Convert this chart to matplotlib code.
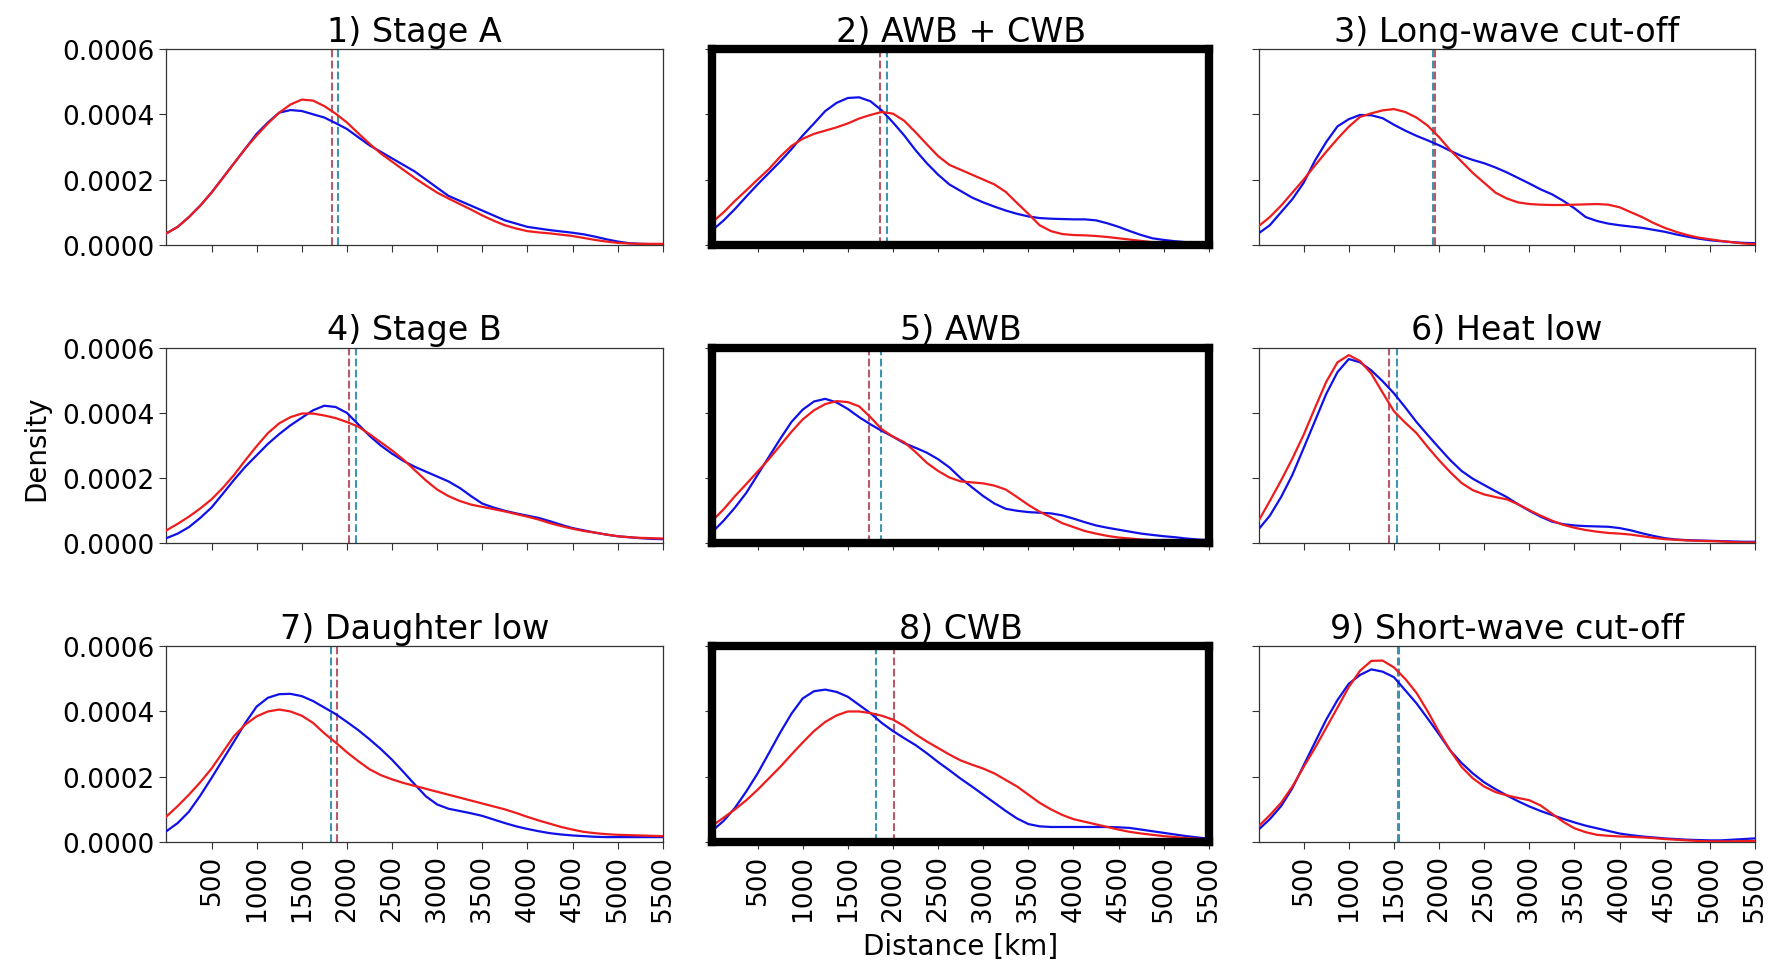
import numpy as np
import matplotlib
matplotlib.use("Agg")
import matplotlib.pyplot as plt
from matplotlib.ticker import FormatStrFormatter

# Distance grid (km) at which the density curves are tabulated
distance_km = list(range(0, 5501, 125))

panel_titles = ["1) Stage A", "2) AWB + CWB", "3) Long-wave cut-off",
                "4) Stage B", "5) AWB", "6) Heat low",
                "7) Daughter low", "8) CWB", "9) Short-wave cut-off"]

# Density values in units of 1e-4 per km
blue_1 = [0.35, 0.55, 0.85, 1.2, 1.6, 2.05, 2.5, 2.95, 3.4, 3.75, 4.05, 4.13, 4.1, 4.0, 3.9, 3.73,
          3.55, 3.3, 3.05, 2.85, 2.65, 2.45, 2.25, 2.0, 1.75, 1.5, 1.35, 1.2, 1.05, 0.9, 0.75,
          0.65, 0.55, 0.5, 0.45, 0.41, 0.37, 0.32, 0.25, 0.17, 0.1, 0.05, 0.03, 0.02, 0.02]
red_1 = [0.35, 0.55, 0.85, 1.2, 1.6, 2.05, 2.5, 2.95, 3.35, 3.72, 4.05, 4.3, 4.45, 4.42, 4.25, 4.02,
         3.75, 3.42, 3.1, 2.8, 2.55, 2.3, 2.05, 1.82, 1.6, 1.42, 1.25, 1.08, 0.9, 0.74, 0.6,
         0.5, 0.42, 0.38, 0.35, 0.31, 0.27, 0.21, 0.15, 0.1, 0.06, 0.04, 0.03, 0.03, 0.03]

blue_2 = [0.45, 0.75, 1.1, 1.48, 1.85, 2.2, 2.55, 2.93, 3.35, 3.72, 4.1, 4.35, 4.5, 4.52, 4.4, 4.12,
          3.75, 3.35, 2.9, 2.5, 2.15, 1.85, 1.65, 1.45, 1.3, 1.17, 1.05, 0.95, 0.87, 0.82, 0.8,
          0.79, 0.78, 0.78, 0.75, 0.66, 0.55, 0.42, 0.3, 0.2, 0.15, 0.11, 0.08, 0.06, 0.05]
red_2 = [0.7, 1.0, 1.35, 1.67, 2.0, 2.32, 2.7, 3.03, 3.25, 3.4, 3.5, 3.6, 3.72, 3.87, 3.98, 4.07,
         4.02, 3.8, 3.45, 3.08, 2.72, 2.45, 2.3, 2.15, 2.0, 1.85, 1.62, 1.28, 0.95, 0.6, 0.42,
         0.33, 0.3, 0.29, 0.27, 0.24, 0.2, 0.16, 0.12, 0.08, 0.06, 0.04, 0.03, 0.02, 0.02]

blue_3 = [0.35, 0.6, 1.0, 1.4, 1.9, 2.58, 3.15, 3.63, 3.85, 3.98, 3.97, 3.88, 3.68, 3.5, 3.34, 3.2,
          3.05, 2.88, 2.72, 2.6, 2.5, 2.37, 2.22, 2.05, 1.88, 1.7, 1.55, 1.35, 1.12, 0.85, 0.73,
          0.65, 0.6, 0.56, 0.52, 0.46, 0.4, 0.32, 0.25, 0.19, 0.14, 0.11, 0.08, 0.06, 0.05]
red_3 = [0.57, 0.85, 1.2, 1.6, 2.0, 2.43, 2.85, 3.25, 3.62, 3.92, 4.03, 4.12, 4.16, 4.07, 3.9, 3.65,
         3.3, 2.9, 2.55, 2.2, 1.9, 1.6, 1.42, 1.3, 1.25, 1.23, 1.22, 1.22, 1.23, 1.24, 1.25,
         1.23, 1.15, 1.0, 0.85, 0.67, 0.52, 0.4, 0.3, 0.22, 0.17, 0.12, 0.08, 0.04, 0.02]

blue_4 = [0.16, 0.3, 0.5, 0.78, 1.1, 1.52, 1.95, 2.35, 2.7, 3.05, 3.35, 3.62, 3.85, 4.08, 4.22, 4.18,
          4.0, 3.65, 3.3, 3.0, 2.75, 2.53, 2.35, 2.2, 2.05, 1.9, 1.7, 1.45, 1.22, 1.1, 1.0,
          0.92, 0.85, 0.78, 0.68, 0.57, 0.47, 0.4, 0.33, 0.27, 0.22, 0.19, 0.16, 0.14, 0.13]
red_4 = [0.4, 0.6, 0.82, 1.07, 1.35, 1.7, 2.1, 2.55, 2.98, 3.38, 3.68, 3.87, 3.98, 3.98, 3.92, 3.84,
         3.72, 3.58, 3.35, 3.1, 2.85, 2.57, 2.25, 1.93, 1.65, 1.45, 1.3, 1.19, 1.12, 1.05, 0.98,
         0.9, 0.82, 0.73, 0.62, 0.53, 0.45, 0.38, 0.33, 0.27, 0.22, 0.19, 0.17, 0.16, 0.15]

blue_5 = [0.35, 0.7, 1.1, 1.55, 2.1, 2.65, 3.2, 3.72, 4.1, 4.35, 4.43, 4.32, 4.12, 3.87, 3.65, 3.45,
          3.27, 3.07, 2.93, 2.78, 2.58, 2.33, 2.0, 1.72, 1.45, 1.22, 1.06, 1.0, 0.96, 0.94, 0.92,
          0.86, 0.76, 0.65, 0.55, 0.48, 0.42, 0.36, 0.3, 0.26, 0.22, 0.19, 0.15, 0.12, 0.1]
red_5 = [0.7, 1.05, 1.45, 1.82, 2.2, 2.58, 3.0, 3.42, 3.8, 4.08, 4.27, 4.36, 4.33, 4.2, 3.87, 3.5,
         3.27, 3.1, 2.8, 2.47, 2.22, 2.02, 1.9, 1.87, 1.84, 1.77, 1.65, 1.42, 1.18, 0.97, 0.8,
         0.62, 0.5, 0.38, 0.3, 0.23, 0.18, 0.15, 0.12, 0.1, 0.08, 0.07, 0.06, 0.05, 0.05]

blue_6 = [0.43, 0.85, 1.42, 2.1, 2.92, 3.75, 4.58, 5.25, 5.65, 5.55, 5.3, 4.97, 4.6, 4.17, 3.72, 3.32,
          2.93, 2.55, 2.22, 1.98, 1.79, 1.6, 1.42, 1.2, 1.0, 0.82, 0.67, 0.59, 0.55, 0.53, 0.52,
          0.51, 0.47, 0.4, 0.31, 0.23, 0.16, 0.12, 0.1, 0.09, 0.08, 0.07, 0.06, 0.05, 0.05]
red_6 = [0.69, 1.3, 1.93, 2.6, 3.33, 4.15, 4.95, 5.55, 5.77, 5.59, 5.2, 4.62, 4.05, 3.7, 3.38, 2.95,
         2.55, 2.18, 1.85, 1.63, 1.5, 1.42, 1.35, 1.2, 1.02, 0.85, 0.7, 0.57, 0.48, 0.41, 0.36,
         0.32, 0.3, 0.27, 0.22, 0.17, 0.13, 0.11, 0.09, 0.08, 0.07, 0.06, 0.04, 0.03, 0.03]

blue_7 = [0.33, 0.58, 0.93, 1.42, 1.96, 2.52, 3.08, 3.65, 4.15, 4.42, 4.53, 4.54, 4.47, 4.32, 4.12, 3.92,
          3.68, 3.43, 3.15, 2.85, 2.52, 2.15, 1.77, 1.4, 1.15, 1.02, 0.95, 0.88, 0.8, 0.69, 0.58,
          0.48, 0.4, 0.33, 0.27, 0.23, 0.2, 0.18, 0.16, 0.15, 0.15, 0.15, 0.15, 0.15, 0.15]
red_7 = [0.78, 1.1, 1.45, 1.83, 2.25, 2.75, 3.25, 3.6, 3.85, 4.0, 4.06, 4.0, 3.87, 3.65, 3.33, 3.05,
         2.75, 2.48, 2.23, 2.05, 1.92, 1.81, 1.72, 1.63, 1.54, 1.45, 1.36, 1.27, 1.18, 1.09, 1.0,
         0.89, 0.77, 0.66, 0.56, 0.46, 0.38, 0.31, 0.27, 0.24, 0.22, 0.21, 0.2, 0.19, 0.18]

blue_8 = [0.35, 0.65, 1.05, 1.55, 2.1, 2.72, 3.35, 3.93, 4.4, 4.62, 4.67, 4.6, 4.45, 4.2, 3.95, 3.65,
          3.4, 3.18, 2.97, 2.72, 2.45, 2.2, 1.94, 1.7, 1.45, 1.2, 0.95, 0.72, 0.55, 0.48, 0.46,
          0.46, 0.46, 0.46, 0.46, 0.46, 0.45, 0.43, 0.38, 0.33, 0.28, 0.23, 0.18, 0.14, 0.1]
red_8 = [0.5, 0.75, 1.0, 1.28, 1.6, 1.95, 2.3, 2.68, 3.05, 3.4, 3.68, 3.88, 4.0, 4.0, 3.95, 3.87,
         3.75, 3.55, 3.3, 3.08, 2.88, 2.68, 2.5, 2.37, 2.25, 2.1, 1.9, 1.7, 1.45, 1.2, 1.0,
         0.83, 0.7, 0.62, 0.54, 0.46, 0.38, 0.31, 0.26, 0.22, 0.18, 0.15, 0.12, 0.1, 0.08]

blue_9 = [0.38, 0.7, 1.1, 1.65, 2.35, 3.05, 3.75, 4.35, 4.85, 5.12, 5.29, 5.22, 5.05, 4.65, 4.25, 3.78,
          3.3, 2.8, 2.42, 2.1, 1.83, 1.62, 1.43, 1.25, 1.09, 0.95, 0.83, 0.71, 0.6, 0.5, 0.42,
          0.34, 0.26, 0.21, 0.17, 0.14, 0.11, 0.09, 0.07, 0.06, 0.05, 0.05, 0.07, 0.09, 0.11]
red_9 = [0.48, 0.82, 1.2, 1.7, 2.3, 2.88, 3.5, 4.12, 4.75, 5.25, 5.55, 5.56, 5.35, 5.0, 4.57, 4.0,
         3.37, 2.8, 2.3, 1.95, 1.7, 1.53, 1.43, 1.35, 1.28, 1.12, 0.87, 0.62, 0.42, 0.3, 0.22,
         0.19, 0.17, 0.16, 0.14, 0.12, 0.09, 0.07, 0.05, 0.03, 0.02, 0.02, 0.02, 0.03, 0.03]

# Mean distances (km) marked with dashed lines
blue_means = [1900, 1930, 1935, 2100, 1865, 1530, 1828, 1816, 1550]
red_means = [1838, 1855, 1955, 2027, 1737, 1443, 1888, 2014, 1560]

# Panels highlighted with a heavy frame
highlighted = [1, 4, 7]

blue_series = [blue_1, blue_2, blue_3, blue_4, blue_5, blue_6, blue_7, blue_8, blue_9]
red_series = [red_1, red_2, red_3, red_4, red_5, red_6, red_7, red_8, red_9]

x_ticks = [500, 1000, 1500, 2000, 2500, 3000, 3500, 4000, 4500, 5000, 5500]
y_ticks = [0.0, 0.0002, 0.0004, 0.0006]

scale = 1e-4
xs = np.array(distance_km, dtype=float)
for s in blue_series + red_series:
    assert len(s) == len(xs), len(s)

fig, axes = plt.subplots(3, 3, figsize=(17.7, 9.62), dpi=100, sharex=True, sharey=True)
fig.subplots_adjust(left=0.094, right=0.9915, top=0.948, bottom=0.1237,
                    wspace=0.10, hspace=0.525)

for i, ax in enumerate(axes.flat):
    b = np.array(blue_series[i]) * scale
    r = np.array(red_series[i]) * scale
    ax.plot(xs, b, color="#1010e8", lw=1.6, zorder=3, solid_joinstyle="round")
    ax.plot(xs, r, color="#ee1c1c", lw=1.6, zorder=3, solid_joinstyle="round")
    ax.axvline(red_means[i], color="#b85a68", ls="--", lw=1.5, zorder=2)
    ax.axvline(blue_means[i], color="#3d95b0", ls="--", lw=1.5, zorder=2)
    ax.set_title(panel_titles[i], fontsize=24)
    ax.set_xlim(0, 5500)
    ax.set_ylim(0, 0.0006)
    ax.set_xticks(x_ticks)
    ax.set_yticks(y_ticks)
    ax.yaxis.set_major_formatter(FormatStrFormatter("%.4f"))
    ax.tick_params(axis="both", labelsize=19, length=5, color="#333333")
    ax.tick_params(axis="x", labelrotation=90)
    for sp in ax.spines.values():
        sp.set_color("#333333")
        sp.set_linewidth(0.9)
    if i in highlighted:
        for sp in ax.spines.values():
            sp.set_color("black")
            sp.set_linewidth(6)
            sp.set_capstyle("projecting")
            sp.set_joinstyle("round")
            sp.set_zorder(5)

axes[2, 1].set_xlabel("Distance [km]", fontsize=20, labelpad=8)
fig.text(0.0205, 0.534, "Density", rotation=90, fontsize=20, ha="center", va="center")

fig.savefig("out.png", dpi=100, facecolor="white")
